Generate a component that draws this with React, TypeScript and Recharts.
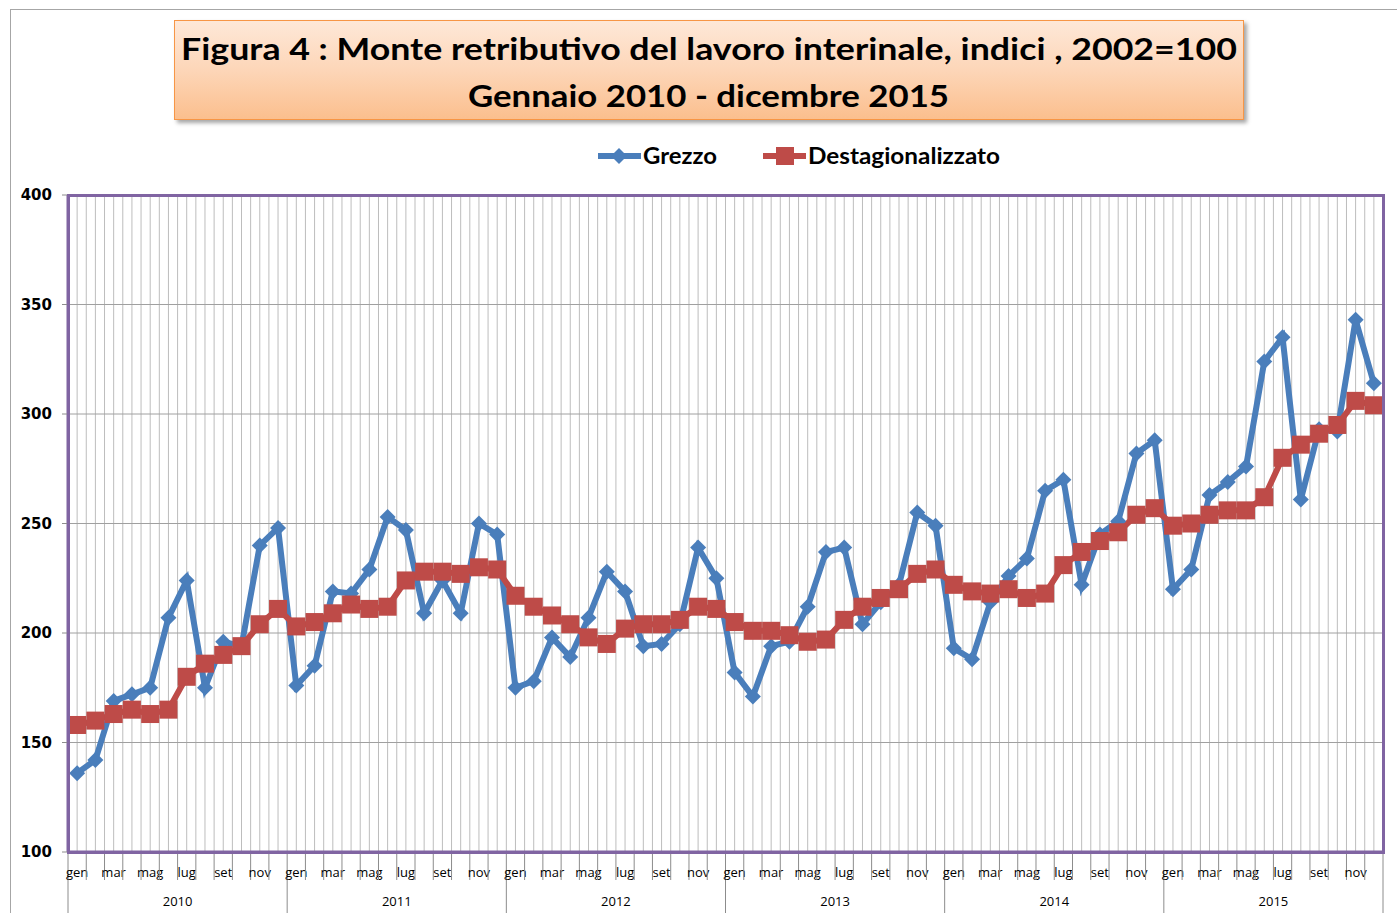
import React from 'react';
import { LineChart, Line, XAxis, YAxis, CartesianGrid } from 'recharts';

const months = ['gen', 'feb', 'mar', 'apr', 'mag', 'giu', 'lug', 'ago', 'set', 'ott', 'nov', 'dic'];
const years = ['2010', '2011', '2012', '2013', '2014', '2015'];

// indici mensili, gen 2010 - dic 2015
const grezzo = [
  136, 142, 169, 172, 175, 207, 224, 175, 196, 194, 240, 248,
  176, 185, 219, 218, 229, 253, 247, 209, 224, 209, 250, 245,
  175, 178, 198, 189, 207, 228, 219, 194, 195, 204, 239, 225,
  182, 171, 194, 196, 212, 237, 239, 204, 214, 222, 255, 249,
  193, 188, 214, 226, 234, 265, 270, 222, 245, 251, 282, 288,
  220, 229, 263, 269, 276, 324, 335, 261, 293, 292, 343, 314,
];
const destagionalizzato = [
  158, 160, 163, 165, 163, 165, 180, 186, 190, 194, 204, 211,
  203, 205, 209, 213, 211, 212, 224, 228, 228, 227, 230, 229,
  217, 212, 208, 204, 198, 195, 202, 204, 204, 206, 212, 211,
  205, 201, 201, 199, 196, 197, 206, 212, 216, 220, 227, 229,
  222, 219, 218, 220, 216, 218, 231, 237, 242, 246, 254, 257,
  249, 250, 254, 256, 256, 262, 280, 286, 291, 295, 306, 304,
];
const yTicks = [100, 150, 200, 250, 300, 350, 400];

const data = years.flatMap((y, yi) =>
  months.map((m, mi) => ({
    key: `${m} ${y}`,
    month: m,
    year: y,
    grezzo: grezzo[yi * 12 + mi],
    destag: destagionalizzato[yi * 12 + mi],
  })),
);

const W = 1397;
const H = 913;
const MARGIN = { top: 195, right: 14, bottom: 0, left: 8 };
const Y_W = 60;
const X_H = 61;
const PLOT_L = MARGIN.left + Y_W;
const PLOT_W = W - PLOT_L - MARGIN.right;
const PLOT_H = H - MARGIN.top - MARGIN.bottom - X_H;
const BAND = PLOT_W / data.length;

const BLUE = '#4A7EBB';
const RED = '#BE4B48';
const PURPLE = '#8064A2';
const AXIS_GREY = '#8c8c8c';

const Diamond = (props: any) => {
  const { cx, cy, index } = props;
  if (cx == null || cy == null) return <g key={index} />;
  const r = 8;
  return (
    <polygon
      key={index}
      points={`${cx},${cy - r} ${cx + r},${cy} ${cx},${cy + r} ${cx - r},${cy}`}
      fill={BLUE}
    />
  );
};

const Square = (props: any) => {
  const { cx, cy, index } = props;
  if (cx == null || cy == null) return <g key={index} />;
  const s = 9;
  return <rect key={index} x={cx - s} y={cy - s} width={s * 2} height={s * 2} fill={RED} />;
};

const MonthTick = (props: any) => {
  const { x, y, payload } = props;
  const i: number = payload.index;
  const d = data[i];
  const left = x - BAND / 2;
  const right = x + BAND / 2;
  return (
    <g>
      <line x1={left} x2={left} y1={y} y2={i % 12 === 0 ? y + X_H : y + 28} stroke={AXIS_GREY} />
      {i === data.length - 1 && <line x1={right} x2={right} y1={y} y2={y + X_H} stroke={AXIS_GREY} />}
      {i % 2 === 0 && (
        <text x={x} y={y + 25} textAnchor="middle" fontFamily="Open Sans" fontSize={13} fill="#000">
          {d.month}
        </text>
      )}
      {i % 12 === 6 && (
        <text x={left} y={y + 54} textAnchor="middle" fontFamily="Open Sans" fontSize={13} fill="#000">
          {d.year}
        </text>
      )}
    </g>
  );
};

const series = [
  { name: 'Grezzo', color: BLUE, marker: 'diamond' },
  { name: 'Destagionalizzato', color: RED, marker: 'square' },
];
const legendPos = [
  { x: 598, textLen: 74 },
  { x: 763, textLen: 192 },
];

const App = () => {
  return (
    <div
      style={{
        position: 'absolute',
        left: 0,
        top: 0,
        width: W,
        height: H,
        background: '#fff',
        overflow: 'hidden',
      }}
    >
      <div
        style={{
          position: 'absolute',
          left: 10,
          top: 9,
          width: W,
          height: H,
          borderTop: '1px solid #a6a6a6',
          borderLeft: '1px solid #a6a6a6',
        }}
      />
      <div
        style={{
          position: 'absolute',
          left: 174,
          top: 20,
          width: 1068,
          height: 98,
          background: 'linear-gradient(to bottom, #fee8d8 0%, #fdd6b8 50%, #fbbf8e 100%)',
          border: '1px solid #f79646',
          boxShadow: '3px 3px 4px rgba(0,0,0,0.35)',
        }}
      >
        <svg width={1068} height={98} style={{ position: 'absolute', left: 0, top: 0 }}>
          <text
            x={6}
            y={39}
            fontFamily="Lato"
            fontWeight="bold"
            fontSize={31}
            fill="#000"
            textLength={1056}
            lengthAdjust="spacingAndGlyphs"
          >
            Figura 4 : Monte  retributivo del lavoro interinale, indici , 2002=100
          </text>
          <text
            x={293}
            y={86}
            fontFamily="Lato"
            fontWeight="bold"
            fontSize={31}
            fill="#000"
            textLength={481}
            lengthAdjust="spacingAndGlyphs"
          >
            Gennaio 2010 - dicembre 2015
          </text>
        </svg>
      </div>
      <svg width={W} height={40} style={{ position: 'absolute', left: 0, top: 136 }}>
        {series.map((s, k) => {
          const lx = legendPos[k].x;
          const cy = 20;
          return (
            <g key={s.name}>
              <line x1={lx} x2={lx + 43} y1={cy} y2={cy} stroke={s.color} strokeWidth={6} />
              {s.marker === 'diamond' ? (
                <polygon
                  points={`${lx + 21},${cy - 8} ${lx + 29},${cy} ${lx + 21},${cy + 8} ${lx + 13},${cy}`}
                  fill={s.color}
                />
              ) : (
                <rect x={lx + 13} y={cy - 9} width={18} height={18} fill={s.color} />
              )}
              <text
                x={lx + 45}
                y={cy + 8}
                fontFamily="Lato"
                fontWeight="bold"
                fontSize={23}
                fill="#000"
                textLength={legendPos[k].textLen}
                lengthAdjust="spacingAndGlyphs"
              >
                {s.name}
              </text>
            </g>
          );
        })}
      </svg>
      <div style={{ position: 'absolute', left: 0, top: 0 }}>
        <LineChart width={W} height={H} data={data} margin={MARGIN}>
          <CartesianGrid
            stroke="#bdbdbd"
            strokeWidth={1}
            horizontal={false}
            verticalCoordinatesGenerator={({ offset }: any) =>
              Array.from({ length: data.length * 2 + 1 }, (_, k) => offset.left + (k * offset.width) / (data.length * 2))
            }
          />
          <CartesianGrid stroke="#a0a0a0" strokeWidth={1} vertical={false} />
          <XAxis
            dataKey="key"
            interval={0}
            height={X_H}
            padding={{ left: BAND / 2, right: BAND / 2 }}
            tickSize={0}
            tickMargin={0}
            tickLine={false}
            axisLine={{ stroke: PURPLE, strokeWidth: 3 }}
            tick={<MonthTick />}
          />
          <YAxis
            domain={[100, 400]}
            ticks={yTicks}
            interval={0}
            width={Y_W}
            tickSize={6}
            tickMargin={10}
            tickLine={{ stroke: AXIS_GREY }}
            axisLine={{ stroke: PURPLE, strokeWidth: 3 }}
            tick={{ fontFamily: 'DejaVu Sans', fontWeight: 'bold', fontSize: 15, fill: '#000' }}
          />
          <Line
            dataKey="grezzo"
            name="Grezzo"
            stroke={BLUE}
            strokeWidth={6}
            dot={<Diamond />}
            activeDot={false}
            isAnimationActive={false}
          />
          <Line
            dataKey="destag"
            name="Destagionalizzato"
            stroke={RED}
            strokeWidth={6}
            dot={<Square />}
            activeDot={false}
            isAnimationActive={false}
          />
        </LineChart>
      </div>
      <div
        style={{
          position: 'absolute',
          boxSizing: 'border-box',
          left: PLOT_L - 1.5,
          top: MARGIN.top - 1.5,
          width: PLOT_W + 3,
          height: PLOT_H + 3,
          border: `3px solid ${PURPLE}`,
          pointerEvents: 'none',
        }}
      />
    </div>
  );
};

export default App;
